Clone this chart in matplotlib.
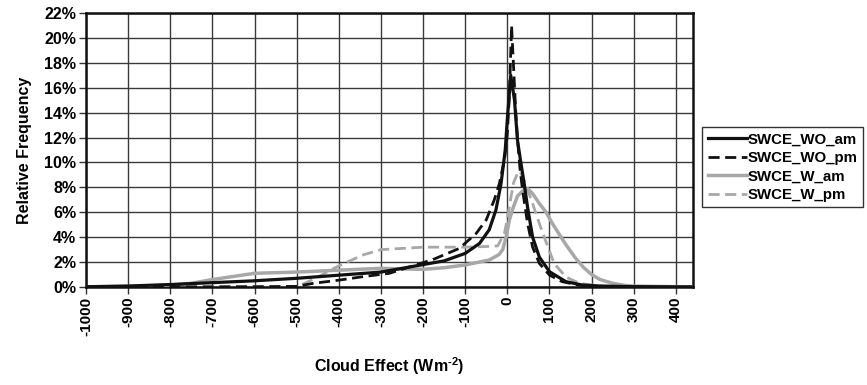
import numpy as np
import matplotlib.pyplot as plt
from matplotlib.ticker import FuncFormatter

plt.rcParams['font.family'] = ['Liberation Sans', 'DejaVu Sans']
plt.rcParams['font.weight'] = 'bold'
plt.rcParams['mathtext.fontset'] = 'custom'
plt.rcParams['mathtext.rm'] = 'Liberation Sans:bold'
plt.rcParams['mathtext.bf'] = 'Liberation Sans:bold'

# values (relative frequency in %)
wo_am_x = [-1000, -900, -800, -700, -600, -500, -400, -300, -250, -200, -150, -100, -66, -43, -27, -15, -5, 0, 8,
           17, 24, 32, 40, 48, 60, 76, 100, 139, 178, 218, 300, 440]
wo_am_y = [0.02, 0.08, 0.2, 0.35, 0.5, 0.7, 0.95, 1.2, 1.5, 1.8, 2.1, 2.7, 3.5, 4.6, 6.2, 8.3, 11.0, 13.5, 17.0,
           15.0, 11.8, 10.0, 8.3, 6.4, 4.0, 2.4, 1.23, 0.43, 0.16, 0.08, 0.03, 0.01]

wo_pm_x = [-1000, -800, -600, -500, -460, -400, -343, -280, -224, -177, -114, -74, -50, -31, -19, -7, 0, 5, 10,
           15, 20, 25, 30, 36, 48, 60, 76, 100, 130, 170, 220, 300]
wo_pm_y = [0.0, 0.0, 0.02, 0.05, 0.3, 0.55, 0.83, 1.1, 1.7, 2.2, 3.1, 4.3, 5.4, 7.0, 8.3, 10.2, 12.3, 15.5, 21.0,
           17.5, 14.0, 11.5, 9.5, 7.8, 5.1, 3.2, 1.9, 0.96, 0.43, 0.15, 0.05, 0.01]

w_am_x = [-1000, -900, -800, -750, -700, -650, -600, -500, -400, -300, -250, -200, -150, -100, -43, -20, -11, -3,
          5, 13, 24, 36, 48, 60, 76, 92, 107, 120, 139, 160, 180, 200, 220, 250, 280, 300, 350, 400, 440]
w_am_y = [0.02, 0.05, 0.15, 0.3, 0.6, 0.85, 1.1, 1.2, 1.35, 1.5, 1.45, 1.42, 1.55, 1.77, 2.17, 2.6, 3.0, 4.0,
          5.4, 6.3, 7.3, 7.7, 7.9, 7.5, 6.7, 6.0, 5.1, 4.4, 3.4, 2.4, 1.6, 1.0, 0.6, 0.3, 0.12, 0.08, 0.05, 0.03, 0.02]

w_pm_x = [-1000, -800, -600, -500, -490, -450, -400, -343, -300, -250, -200, -100, -50, -23, -7, 0, 9, 15, 24,
          30, 44, 60, 76, 92, 111, 139, 171, 220, 300, 440]
w_pm_y = [0.02, 0.02, 0.03, 0.05, 0.15, 0.8, 1.7, 2.57, 3.0, 3.1, 3.2, 3.2, 3.25, 3.3, 4.3, 5.5, 7.3, 8.4, 9.1,
          9.3, 8.2, 6.7, 5.1, 3.6, 1.9, 0.8, 0.3, 0.08, 0.02, 0.01]

x_ticks = list(range(-1000, 401, 100))
y_ticks = list(range(0, 23, 2))

fig = plt.figure(figsize=(8.67, 3.85), dpi=100)
ax = fig.add_axes([0.0992, 0.2545, 0.6998, 0.7117])

gray = '#a8a8a8'
ax.plot(wo_am_x, wo_am_y, color='#111111', lw=2.3, label='SWCE_WO_am', zorder=5)
ax.plot(wo_pm_x, wo_pm_y, color='#111111', lw=2.0, dashes=(4, 2), label='SWCE_WO_pm', zorder=6)
ax.plot(w_am_x, w_am_y, color=gray, lw=2.5, label='SWCE_W_am', zorder=3)
ax.plot(w_pm_x, w_pm_y, color=gray, lw=2.0, dashes=(4, 2), label='SWCE_W_pm', zorder=4)

ax.set_xlim(-1000, 440)
ax.set_ylim(0, 22)
ax.set_xticks(x_ticks)
ax.set_yticks(y_ticks)
ax.yaxis.set_major_formatter(FuncFormatter(lambda v, p: f"{int(v)}%"))
ax.set_xticklabels([str(t) for t in x_ticks], rotation=90, fontsize=11, fontweight='bold')
for lab in ax.get_yticklabels():
    lab.set_fontsize(11.5)
    lab.set_fontweight('bold')
ax.tick_params(direction='out', length=5, width=1, color='#333333', pad=2)

ax.grid(True, color='#3a3a3a', lw=1.0)
ax.set_axisbelow(True)
for s in ax.spines.values():
    s.set_linewidth(1.8)
    s.set_color('#111111')

ax.set_ylabel('Relative Frequency', fontsize=11.5, fontweight='bold', labelpad=9)
ax.set_xlabel('Cloud Effect (Wm$^{\\text{-2}}$)', fontsize=11.5, fontweight='bold', labelpad=14)

leg = ax.legend(loc='center left', bbox_to_anchor=(0.810, 0.565), bbox_transform=fig.transFigure,
                frameon=True, fancybox=False, edgecolor='black', fontsize=10.8, handlelength=2.6,
                handletextpad=0.1, borderpad=0.35, labelspacing=0.3, borderaxespad=0)
leg.get_frame().set_linewidth(1.0)
for t in leg.get_texts():
    t.set_fontweight('bold')

fig.savefig('out.png', dpi=100)
